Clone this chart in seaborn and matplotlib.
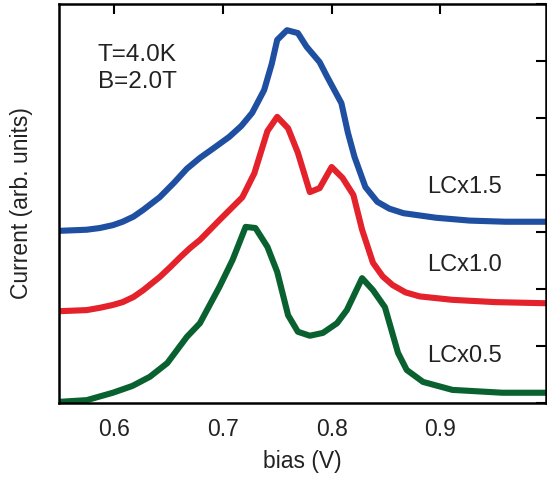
import numpy as np
import pandas as pd
import matplotlib
matplotlib.use("Agg")
import matplotlib.pyplot as plt
import seaborn as sns

# ---- data ----
bias_blue = [0.5495, 0.575, 0.587, 0.599, 0.608, 0.618, 0.627, 0.642, 0.655, 0.667, 0.679, 0.693, 0.706,
             0.717, 0.727, 0.738, 0.745, 0.750, 0.759, 0.769, 0.777, 0.789, 0.796, 0.809, 0.815, 0.821,
             0.831, 0.842, 0.853, 0.866, 0.896, 0.927, 0.960, 0.997]
cur_blue = [3.02, 3.04, 3.07, 3.12, 3.18, 3.27, 3.39, 3.61, 3.86, 4.11, 4.30, 4.49, 4.67,
            4.86, 5.09, 5.49, 5.95, 6.37, 6.54, 6.49, 6.25, 5.98, 5.72, 5.26, 4.74, 4.32,
            3.79, 3.53, 3.41, 3.33, 3.25, 3.20, 3.18, 3.18]

bias_red = [0.5495, 0.575, 0.587, 0.599, 0.608, 0.618, 0.627, 0.642, 0.652, 0.661, 0.670, 0.679, 0.697,
            0.718, 0.729, 0.741, 0.750, 0.760, 0.769, 0.780, 0.789, 0.800, 0.810, 0.820, 0.828,
            0.838, 0.847, 0.856, 0.868, 0.881, 0.911, 0.950, 0.997]
cur_red = [1.61, 1.63, 1.67, 1.72, 1.77, 1.86, 1.98, 2.21, 2.39, 2.56, 2.72, 2.86, 3.21,
           3.61, 4.03, 4.77, 5.02, 4.82, 4.39, 3.70, 3.77, 4.14, 3.95, 3.65, 3.04,
           2.46, 2.22, 2.07, 1.94, 1.87, 1.81, 1.77, 1.75]

bias_green = [0.5495, 0.575, 0.599, 0.617, 0.633, 0.649, 0.667, 0.679, 0.697, 0.709, 0.721, 0.730, 0.741,
              0.750, 0.760, 0.769, 0.780, 0.792, 0.805, 0.814, 0.828, 0.838, 0.849, 0.861, 0.869,
              0.884, 0.911, 0.957, 0.997]
cur_green = [0.02, 0.05, 0.18, 0.30, 0.46, 0.70, 1.16, 1.40, 2.04, 2.51, 3.09, 3.07, 2.74,
             2.30, 1.54, 1.25, 1.18, 1.23, 1.40, 1.63, 2.19, 1.98, 1.68, 0.88, 0.58,
             0.37, 0.23, 0.18, 0.18]

series_names = ["LCx1.5", "LCx1.0", "LCx0.5"]
label_y = [3.79, 2.42, 0.82]
x_ticks = [0.6, 0.7, 0.8, 0.9]
x_ticklabels = ["0.6", "0.7", "0.8", "0.9"]
inset_lines = ["T=4.0K", "B=2.0T"]

colors = {"LCx1.5": "#1f4fa0", "LCx1.0": "#e4222b", "LCx0.5": "#0a6130"}

df = pd.concat([
    pd.DataFrame({"bias": bias_blue, "current": cur_blue, "series": series_names[0]}),
    pd.DataFrame({"bias": bias_red, "current": cur_red, "series": series_names[1]}),
    pd.DataFrame({"bias": bias_green, "current": cur_green, "series": series_names[2]}),
], ignore_index=True)

sns.set_theme(style="white")
plt.rcParams["font.family"] = ["Liberation Sans", "DejaVu Sans"]

fig = plt.figure(figsize=(5.47, 4.83), dpi=100)
ax = fig.add_axes([59/547, 1 - 403/483, (546 - 59)/547, (403 - 4)/483])

sns.lineplot(data=df, x="bias", y="current", hue="series", palette=colors,
             linewidth=4.4, sort=False, legend=False, ax=ax)

ax.set_xlim(0.5495, 0.997)
ax.set_ylim(0, 7)
ax.set_xticks(x_ticks)
ax.set_xticklabels(x_ticklabels)
ax.set_yticks(range(0, 8))
ax.set_yticklabels([])
ax.tick_params(axis="both", direction="in", length=7, width=1.5, color="black",
               top=True, right=True, labelsize=16.5, labelcolor="#222222", pad=11)
for sp in ax.spines.values():
    sp.set_visible(True)
    sp.set_color("black")
    sp.set_linewidth(1.8)

ax.set_xlabel("bias (V)", fontsize=16.5, color="#222222", labelpad=6)
ax.set_ylabel("Current (arb. units)", fontsize=16.5, color="#222222", labelpad=8)

for name, yv in zip(series_names, label_y):
    ax.text(0.888, yv, name, fontsize=17, color="#222222", va="center", ha="left")

ax.text(0.585, 6.1, inset_lines[0], fontsize=17.5, color="#222222", va="center", ha="left")
ax.text(0.585, 5.63, inset_lines[1], fontsize=17.5, color="#222222", va="center", ha="left")

fig.savefig("out.png", dpi=100)
